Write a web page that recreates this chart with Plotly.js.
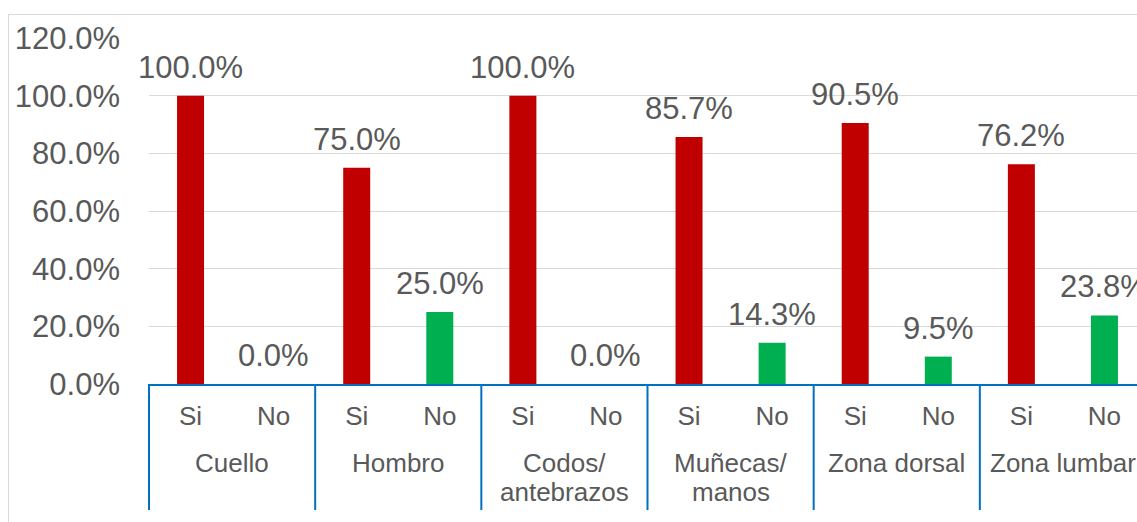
<!DOCTYPE html>
<html>
<head>
<meta charset="utf-8">
<script src="https://cdn.plot.ly/plotly-3.0.1.min.js"></script>
<style>
  html, body { margin: 0; padding: 0; background: #fff; overflow: hidden; }
  #frame { position: absolute; left: 8px; top: 14px; border: 1px solid #d9d9d9; }
</style>
</head>
<body>
<div id="frame"><div id="chart"></div></div>
<script>
// Body regions and answer options
const regions = ["Cuello", "Hombro", "Codos/<br>antebrazos", "Muñecas/<br>manos", "Zona dorsal", "Zona lumbar"];
const answers = ["Si", "No"];
// Percentage of respondents per region
const siValues = [100.0, 75.0, 100.0, 85.7, 90.5, 76.2];
const noValues = [0.0, 25.0, 0.0, 14.3, 9.5, 23.8];
const answerColors = {"Si": "#C00000", "No": "#00B050"};

// Interleave Si / No for each region: slot 2i is Si, 2i+1 is No
const pos = [], labels = [], vals = [], cols = [];
regions.forEach((r, i) => {
  [[answers[0], siValues[i]], [answers[1], noValues[i]]].forEach(([a, v], j) => {
    pos.push(2 * i + j); labels.push(a); vals.push(v); cols.push(answerColors[a]);
  });
});

const font = "Liberation Sans, Arial, sans-serif";
const textColor = "#595959";
const axisBlue = "#0070C0";

// Value labels above each bar
const annotations = vals.map((v, i) => ({
  x: pos[i], y: v, xref: "x", yref: "y",
  text: v.toFixed(1) + "%",
  showarrow: false, yanchor: "bottom", yshift: 9,
  font: {family: font, size: 31, color: textColor}
}));

// Region names centred under each Si/No pair, one annotation per line
regions.forEach((r, i) => {
  r.split("<br>").forEach((line, k) => {
    annotations.push({
      x: 2 * i + 0.5, xref: "x",
      y: 0, yref: "paper", yanchor: "middle",
      yshift: -79 - 29 * k,
      text: line, showarrow: false,
      font: {family: font, size: 26, color: textColor}
    });
  });
});

// Blue dividers between regions, hanging below the axis
// (the first one sits on the left edge of the plot area)
const dividerDepth = -126 / 346;
const shapes = [{
  type: "line", xref: "paper", yref: "paper",
  x0: 0, x1: 0, y0: 0, y1: dividerDepth,
  line: {color: axisBlue, width: 2}
}];
for (let i = 1; i <= regions.length; i++) {
  shapes.push({
    type: "line", xref: "x", yref: "paper",
    x0: 2 * i - 0.5, x1: 2 * i - 0.5,
    y0: 0, y1: dividerDepth,
    line: {color: axisBlue, width: 2}
  });
}

Plotly.newPlot("chart", [{
  type: "bar",
  x: pos,
  y: vals,
  width: 0.325,
  marker: {color: cols},
  hoverinfo: "none"
}], {
  width: 1160, height: 540,
  margin: {l: 140, r: 23, t: 23, b: 171},
  paper_bgcolor: "#fff", plot_bgcolor: "#fff",
  showlegend: false,
  font: {family: font, color: textColor},
  xaxis: {
    range: [-0.5, 2 * regions.length - 0.5],
    tickmode: "array", tickvals: pos, ticktext: labels,
    showline: true, linecolor: axisBlue, linewidth: 2,
    showgrid: false, zeroline: false, ticks: "",
    ticklabelstandoff: 8, automargin: false,
    tickfont: {family: font, size: 26, color: textColor}
  },
  yaxis: {
    range: [0, 120], dtick: 20, tickformat: ".1f", ticksuffix: "%",
    showgrid: true, gridcolor: "#d9d9d9", gridwidth: 1,
    zeroline: false, showline: false, ticks: "",
    ticklabelstandoff: 28, automargin: false,
    tickfont: {family: font, size: 31, color: textColor}
  },
  shapes: shapes,
  annotations: annotations
}, {displayModeBar: false, staticPlot: true});
</script>
</body>
</html>
